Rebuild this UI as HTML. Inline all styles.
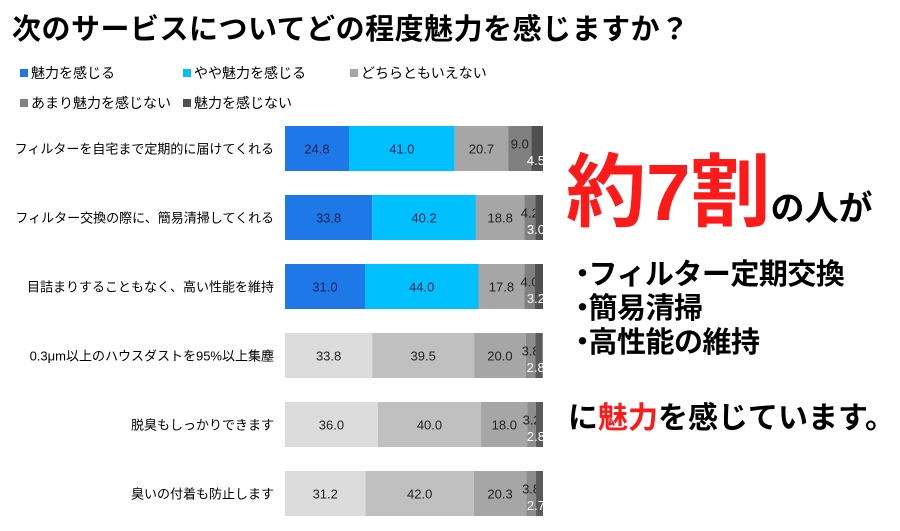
<!DOCTYPE html>
<html><head><meta charset="utf-8">
<style>
body{margin:0;width:900px;height:531px;background:#fff;overflow:hidden;font-family:"Liberation Sans","Noto Sans CJK JP",sans-serif;position:relative}
.t{position:absolute;white-space:nowrap}
.leg{position:absolute;font-size:14px;white-space:nowrap}
.leg i{display:inline-block;width:8px;height:8px;margin-right:3px;vertical-align:1px}
</style></head><body>
<div class="t" style="left:12px;top:6px;font-size:29px;font-weight:bold;letter-spacing:0.5px">次のサービスについてどの程度魅力を感じますか？</div>
<div class="leg" style="left:20px;top:63px"><i style="background:#1f78e8"></i>魅力を感じる</div>
<div class="leg" style="left:183px;top:63px"><i style="background:#00c0ff"></i>やや魅力を感じる</div>
<div class="leg" style="left:350px;top:63px"><i style="background:#a6a6a6"></i>どちらともいえない</div>
<div class="leg" style="left:20px;top:93px"><i style="background:#808080"></i>あまり魅力を感じない</div>
<div class="leg" style="left:183px;top:93px"><i style="background:#505050"></i>魅力を感じない</div>
<svg id="chart" width="900" height="531" style="position:absolute;left:0;top:0;font-family:'Liberation Sans','Noto Sans CJK JP',sans-serif"></svg>
<div class="t" style="left:566px;top:128px;font-weight:bold"><span style="color:#ff1a1a;font-size:80px;letter-spacing:0px">約7割</span><span style="font-size:34px">の人が</span></div>
<div class="t" style="left:568px;top:258px;font-size:29px;font-weight:bold;line-height:34px;letter-spacing:-0.5px"><span style="margin-right:-8px">・</span>フィルター定期交換<br><span style="margin-right:-8px">・</span>簡易清掃<br><span style="margin-right:-8px">・</span>高性能の維持</div>
<div class="t" style="left:568px;top:393px;font-size:30px;font-weight:bold">に<span style="color:#ff1a1a">魅力</span>を感じています。</div>
<script>
const categories=["フィルターを自宅まで定期的に届けてくれる","フィルター交換の際に、簡易清掃してくれる","目詰まりすることもなく、高い性能を維持","0.3μm以上のハウスダストを95%以上集塵","脱臭もしっかりできます","臭いの付着も防止します"];
const s1=[24.8,33.8,31.0,33.8,36.0,31.2];
const s2=[41.0,40.2,44.0,39.5,40.0,42.0];
const s3=[20.7,18.8,17.8,20.0,18.0,20.3];
const s4=[9.0,4.2,4.0,3.8,3.2,3.8];
const s5=[4.5,3.0,3.2,2.8,2.8,2.7];
const svg=document.getElementById('chart');
const NS='http://www.w3.org/2000/svg';
const x0=285,W=258,y0=126,step=69,h=45;
const xs=v=>v*W/100;
const colored=["#1f78e8","#00c0ff","#a6a6a6","#808080","#505050"];
const gray=["#dcdcdc","#c0c0c0","#a6a6a6","#8c8c8c","#5a5a5a"];
const series=[s1,s2,s3,s4,s5];
categories.forEach((c,i)=>{
  const y=y0+i*step;
  const lab=document.createElementNS(NS,'text');
  
  
  lab.setAttribute('x',274);lab.setAttribute('y',y+h/2+5);
  lab.setAttribute('text-anchor','end');lab.setAttribute('font-size','13');
  lab.textContent=c;svg.appendChild(lab);
  const cols=i<3?colored:gray;
  let x=x0;
  series.forEach((s,k)=>{
    const w=xs(s[i]);
    const r=document.createElementNS(NS,'rect');
    
    
    r.setAttribute('x',x);r.setAttribute('y',y);r.setAttribute('width',w);r.setAttribute('height',h);
    r.setAttribute('fill',cols[k]);svg.appendChild(r);
    const t=document.createElementNS(NS,'text');
    
    
    t.setAttribute('font-size','13');
    if(k<3){t.setAttribute('x',x+w/2);t.setAttribute('y',y+h/2+5);t.setAttribute('text-anchor','middle');t.setAttribute('fill',i<3&&k<2?'#102050':'#222');}
    else if(k==3){t.setAttribute('x',x+w/2);t.setAttribute('y',y+h/2);t.setAttribute('text-anchor','middle');t.setAttribute('fill','#222');}
    else{t.setAttribute('x',x+w+2);t.setAttribute('y',y+h-6);t.setAttribute('text-anchor','end');t.setAttribute('fill','#fff');}
    t.textContent=s[i].toFixed(1);svg.appendChild(t);
    x+=w;
  });
});
</script>
</body></html>
